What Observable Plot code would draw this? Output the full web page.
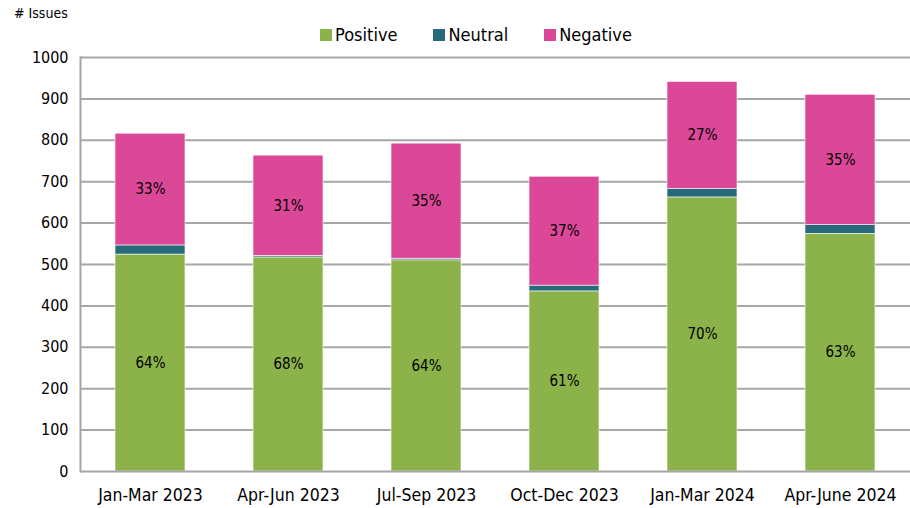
<!DOCTYPE html>
<html>
<head>
<meta charset="utf-8">
<script src="https://cdn.jsdelivr.net/npm/d3@7"></script>
<script src="https://cdn.jsdelivr.net/npm/@observablehq/plot@0.6"></script>
<style>
  body { margin: 0; background: #fff; font-family: "DejaVu Sans Condensed", "Liberation Sans", sans-serif; }
  #header { position: relative; height: 44px; width: 910px; }
  #ytitle { position: absolute; left: 14px; top: 5px; font-size: 14px; color: #000; }
  #legend { position: absolute; top: 24px; left: 0; width: 910px; display: flex; justify-content: center; padding-left: 42px; box-sizing: border-box; font-size: 18px; gap: 36px; }
  .item { display: flex; align-items: center; }
  .sw { width: 12px; height: 12px; margin-right: 3px; display: inline-block; }
</style>
</head>
<body>
<div id="header"><div id="ytitle"># Issues</div><div id="legend"></div></div>
<div id="chart"></div>
<script>
const periods = ["Jan-Mar 2023", "Apr-Jun 2023", "Jul-Sep 2023", "Oct-Dec 2023", "Jan-Mar 2024", "Apr-June 2024"];
const series = ["Positive", "Neutral", "Negative"];
const colors = ["#8cb24a", "#276a7a", "#db4898"];
const positive = [524, 517, 510, 435, 662, 574];
const neutral = [22, 4, 4, 14, 20, 21];
const negative = [270, 242, 278, 263, 259, 315];
const positivePct = ["64%", "68%", "64%", "61%", "70%", "63%"];
const negativePct = ["33%", "31%", "35%", "37%", "27%", "35%"];
const yTicks = [0, 100, 200, 300, 400, 500, 600, 700, 800, 900, 1000];

const rows = [];
periods.forEach((p, i) => {
  rows.push({period: p, series: "Positive", value: positive[i], label: positivePct[i]});
  rows.push({period: p, series: "Neutral", value: neutral[i], label: ""});
  rows.push({period: p, series: "Negative", value: negative[i], label: negativePct[i]});
});

const legend = document.getElementById("legend");
series.forEach((s, i) => {
  const it = document.createElement("div");
  it.className = "item";
  it.innerHTML = `<span class="sw" style="background:${colors[i]}"></span><span>${s}</span>`;
  legend.appendChild(it);
});

const font = "DejaVu Sans Condensed, Liberation Sans, sans-serif";
const chart = Plot.plot({
  width: 910,
  height: 464,
  marginTop: 13,
  marginBottom: 37,
  marginLeft: 80,
  marginRight: 0,
  style: {fontFamily: font, fontSize: "16px", color: "#000", background: "#fff"},
  x: {domain: periods, paddingInner: 0.49, paddingOuter: 0.245, label: null},
  y: {domain: [0, 1000], ticks: yTicks, label: null},
  color: {domain: series, range: colors},
  marks: [
    Plot.ruleY(yTicks.filter(d => d > 0), {stroke: "#a6a6a6", strokeWidth: 2}),
    Plot.barY(rows, Plot.stackY({x: "period", y: "value", z: "series", fill: "series", order: series, stroke: "#fff", strokeWidth: 0.6})),
    Plot.text(rows, Plot.stackY({x: "period", y: "value", z: "series", order: series, text: "label", fontSize: 15, fill: "#000"})),
    Plot.axisY({ticks: yTicks, tickSize: 0, tickPadding: 12, fontSize: 16, tickFormat: d => String(d)}),
    Plot.axisX({tickSize: 0, tickPadding: 17, fontSize: 17.5}),
    Plot.frame({anchor: "left", stroke: "#a6a6a6", strokeWidth: 2}),
    Plot.ruleY([0], {stroke: "#a6a6a6", strokeWidth: 2})
  ]
});
document.getElementById("chart").appendChild(chart);
</script>
</body>
</html>
